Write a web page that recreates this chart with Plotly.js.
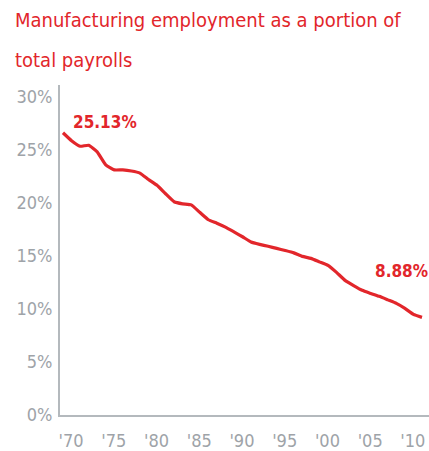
<!DOCTYPE html>
<html>
<head>
<meta charset="utf-8">
<script src="https://cdn.plot.ly/plotly-3.0.1.min.js"></script>
<style>html,body{margin:0;padding:0;background:#fff;}#chart{width:429px;height:451px;}</style>
</head>
<body>
<div id="chart"></div>
<script>
// Data
var years = [1970,1971,1972,1973,1974,1975,1976,1977,1978,1979,
             1980,1981,1982,1983,1984,1985,1986,1987,1988,1989,
             1990,1991,1992,1993,1994,1995,1996,1997,1998,1999,
             2000,2001,2002,2003,2004,2005,2006,2007,2008,2009,
             2010,2011,2012];
var share = [26.6,25.85,25.33,25.42,24.8,23.58,23.1,23.1,23.0,22.8,
             22.2,21.65,20.85,20.1,19.9,19.8,19.1,18.4,18.07,17.7,
             17.26,16.8,16.3,16.08,15.9,15.7,15.5,15.28,14.95,14.76,
             14.43,14.1,13.44,12.69,12.2,11.75,11.46,11.18,10.85,10.52,
             10.05,9.48,9.2];
var xTickVals = [1970,1975,1980,1985,1990,1995,2000,2005,2010];
var xTickText = ["'70","'75","'80","'85","'90","'95","'00","'05","'10"];
var yTickVals = [0,5,10,15,20,25,30];
var yTickText = ["0%","5%","10%","15%","20%","25%","30%"];
var titleLines = ["Manufacturing employment as a portion of", "total payrolls"];
var callouts = ["25.13%", "8.88%"];

var RED = '#e2262b';
var GRAY = '#9ea3a8';
var FONT = '"Liberation Sans Narrow", "Arial Narrow", "DejaVu Sans Condensed", sans-serif';

var trace = {
  x: years, y: share, type: 'scatter', mode: 'lines',
  line: {color: RED, width: 3.2, shape: 'spline', smoothing: 0.4},
  hoverinfo: 'skip'
};

var layout = {
  width: 429, height: 451,
  margin: {l: 60, r: 0, t: 85, b: 36},
  paper_bgcolor: '#fff', plot_bgcolor: '#fff',
  showlegend: false,
  font: {family: FONT, color: GRAY},
  xaxis: {
    range: [1969.65, 2012.82], tickmode: 'array', tickvals: xTickVals, ticktext: xTickText,
    showgrid: false, zeroline: false, showline: true, linecolor: '#b4b9bd', linewidth: 2,
    ticks: '', ticklabelshift: 8, ticklabelstandoff: 8,
    tickfont: {family: FONT, size: 18, color: GRAY}, fixedrange: true
  },
  yaxis: {
    range: [0, 31.1], tickmode: 'array', tickvals: yTickVals, ticktext: yTickText,
    showgrid: false, zeroline: false, showline: true, linecolor: '#b4b9bd', linewidth: 2,
    ticks: '', ticklabelstandoff: 2,
    tickfont: {family: FONT, size: 18, color: GRAY}, fixedrange: true
  },
  annotations: [
    {text: titleLines[0], xref: 'paper', yref: 'paper', x: -0.127, y: 1.197, xanchor: 'left', yanchor: 'middle',
     showarrow: false, font: {family: FONT, size: 20, color: RED}},
    {text: titleLines[1], xref: 'paper', yref: 'paper', x: -0.127, y: 1.076, xanchor: 'left', yanchor: 'middle',
     showarrow: false, font: {family: FONT, size: 20, color: RED}},
    {text: '<b>' + callouts[0] + '</b>', xref: 'x', yref: 'y', x: 1974.9, y: 27.6, xanchor: 'center', yanchor: 'middle',
     showarrow: false, font: {family: FONT, size: 17, color: RED}},
    {text: '<b>' + callouts[1] + '</b>', xref: 'x', yref: 'y', x: 2009.65, y: 13.6, xanchor: 'center', yanchor: 'middle',
     showarrow: false, font: {family: FONT, size: 17, color: RED}}
  ]
};

Plotly.newPlot('chart', [trace], layout, {displayModeBar: false, staticPlot: true});
</script>
</body>
</html>
